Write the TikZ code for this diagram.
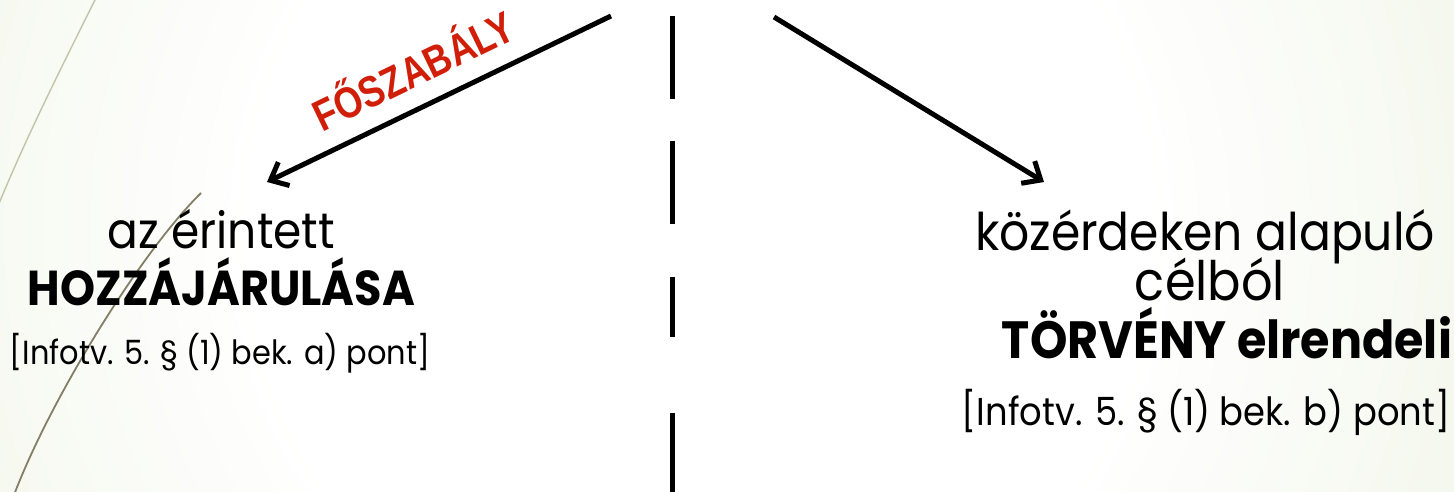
\documentclass[tikz,border=0pt]{standalone}
\usepackage{fontspec}
\setmainfont{Poppins}
\newfontfamily\labelfont{Liberation Sans}
\usetikzlibrary{arrows.meta}
\definecolor{bggreen}{HTML}{E0E9CC}
\definecolor{fored}{HTML}{D01E08}
\definecolor{decoA}{HTML}{C2C4AA}
\definecolor{decoB}{HTML}{857E66}
\pgfdeclareradialshading{bgshade}{\pgfpoint{0bp}{0bp}}{color(0bp)=(white); color(14bp)=(white); color(46bp)=(bggreen); color(50bp)=(bggreen)}
\newcommand{\fitw}[2]{\scalebox{1}[1.1]{\resizebox{#1}{!}{#2}}}
\begin{document}
\begin{tikzpicture}[x=1pt,y=-1pt,
  txt/.style={inner sep=0pt, outer sep=0pt, anchor=base, text=black},
  arr/.style={line width=5pt, -{Straight Barb[length=15pt,width=26pt,line width=5pt]}},
  divider/.style={line width=5pt, dash pattern={on 83pt off 42pt on 83pt off 53pt on 60pt off 76pt on 120pt}},
  decothin/.style={draw=decoA, line width=1.4pt},
  decothick/.style={draw=decoB, line width=1.8pt}]
\useasboundingbox (0,0) rectangle (1454,492);
\begin{scope}
  \clip (0,0) rectangle (1454,492);
  \shade[shading=bgshade] (-100,-570) rectangle (1500,1030);
  % decorative curves
  \draw[decothin] (96,-2) .. controls (60,70) and (25,140) .. (-2,206);
  \draw[decothick] (201,193) .. controls (140,253) and (50,400) .. (14,495);
\end{scope}

% divider
\coordinate (dtop) at (672,16);
\coordinate (dbot) at (672,500);
\draw[divider] (dtop) -- (dbot);

% arrows
\coordinate (ls) at (611,16);
\coordinate (lt) at (267,182);
\coordinate (rs) at (774,17);
\coordinate (rt) at (1044,182);
\draw[arr] (ls) -- (lt);
\draw[arr] (rs) -- (rt);

% red label
\node[inner sep=0pt, rotate=25.8, text=fored] (fo) at (412,68) {\scalebox{1.03}[1.25]{\labelfont\bfseries\fontsize{35}{42}\selectfont FŐSZABÁLY}};

% left block
\node[txt] (l1) at (221.5,248) {\fitw{227pt}{az érintett}};
\node[txt] (l2) at (221.5,305) {\fitw{387pt}{\bfseries HOZZÁJÁRULÁSA}};
\node[txt] (l3) at (220,364) {\fitw{420pt}{[Infotv. 5. § (1) bek. a) pont]}};

% right block
\node[txt] (r1) at (1205,250) {\fitw{460pt}{közérdeken alapuló}};
\node[txt] (r2) at (1210,300) {\fitw{150pt}{célból}};
\node[txt] (r3) at (1227,358) {\fitw{450pt}{\bfseries TÖRVÉNY elrendeli}};
\node[txt] (r4) at (1206,425) {\fitw{488pt}{[Infotv. 5. § (1) bek. b) pont]}};
\end{tikzpicture}
\end{document}
